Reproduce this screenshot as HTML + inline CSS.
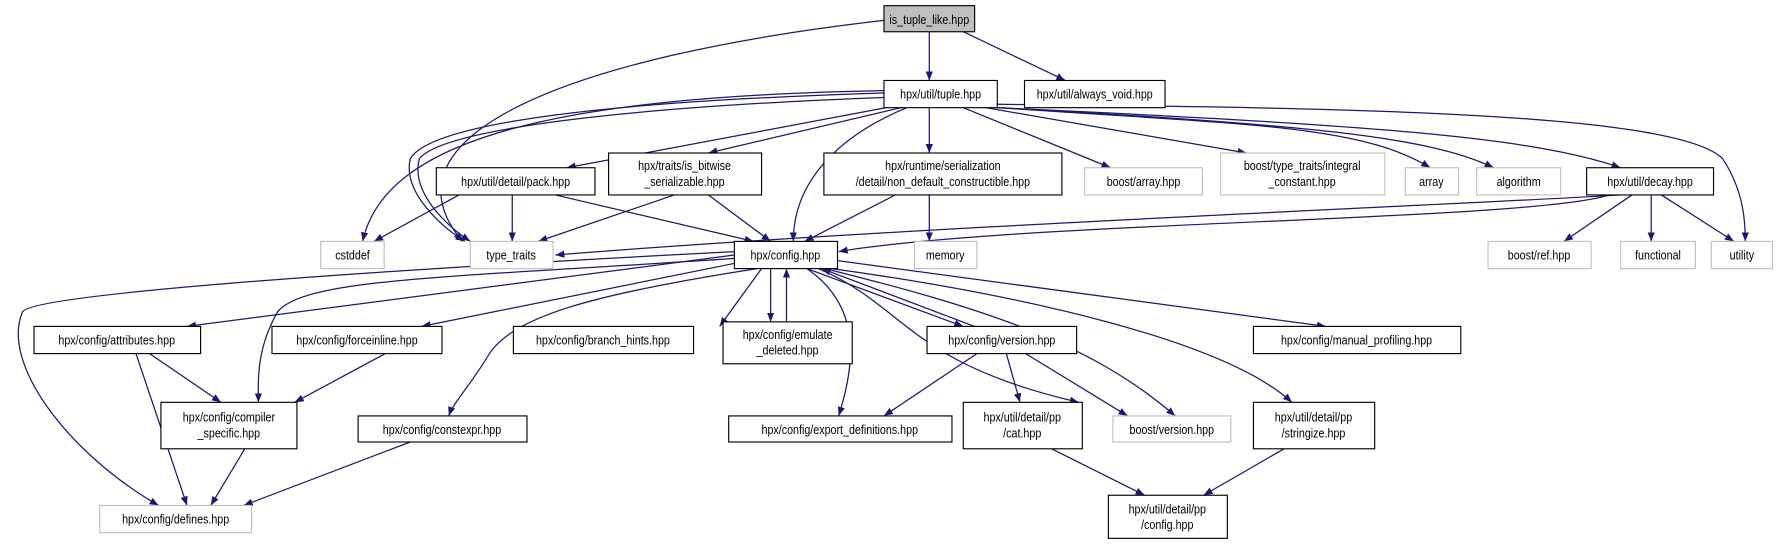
<!DOCTYPE html>
<html><head><meta charset="utf-8"><style>
html,body{margin:0;padding:0;background:#fff;}
svg{display:block}
text{font-family:"Liberation Sans",sans-serif;font-size:11px;fill:#000;transform-box:fill-box;transform-origin:center;transform:scaleX(0.86)}
</style></head><body>
<svg width="1777" height="544" viewBox="0 0 1568 480" xmlns="http://www.w3.org/2000/svg">
<defs><marker id="a" viewBox="0 0 10 10" refX="10" refY="5" markerWidth="8" markerHeight="8" markerUnits="userSpaceOnUse" orient="auto"><path d="M0,1 L10,5 L0,9 z" fill="#191970"/></marker></defs>
<g fill="none" stroke="#191970" stroke-width="1.1" marker-end="url(#a)">
<path d="M820,28 L820,71"/>
<path d="M850,28 L940,71"/>
<path d="M780,18 C500,50 330,120 408,213"/>
<path d="M780,80 C500,85 340,120 320,213"/>
<path d="M780,82 C520,90 380,110 362,140 C355,170 390,200 410,213"/>
<path d="M780,86 C540,95 390,115 370,140 C362,170 395,200 415,213"/>
<path d="M782,95 L500,148"/>
<path d="M795,95 L625,135"/>
<path d="M820,95 L820,135"/>
<path d="M800,95 C740,120 700,160 700,213"/>
<path d="M850,95 L980,148"/>
<path d="M870,95 L1100,135"/>
<path d="M880,95 C1100,110 1200,110 1262,148"/>
<path d="M880,95 C1150,110 1260,120 1318,148"/>
<path d="M880,95 C1200,110 1350,120 1430,148"/>
<path d="M880,92 C1200,95 1480,100 1520,140 C1540,170 1540,200 1540,213"/>
<path d="M405,172 L330,213"/>
<path d="M452,172 L452,213"/>
<path d="M490,172 L665,213"/>
<path d="M595,172 L475,213"/>
<path d="M625,172 L680,213"/>
<path d="M790,172 L710,213"/>
<path d="M820,172 L820,213"/>
<path d="M1430,172 C1300,180 800,200 490,225"/>
<path d="M1420,172 C1350,195 900,195 740,222"/>
<path d="M1440,172 L1380,213"/>
<path d="M1457,172 L1457,213"/>
<path d="M1466,172 L1530,213"/>
<path d="M648,225 L165,288"/>
<path d="M648,228 C400,245 270,245 245,275 C225,310 228,340 228,355"/>
<path d="M648,222 C300,240 30,260 20,275 C0,320 60,400 140,446"/>
<path d="M655,231 L372,288"/>
<path d="M668,237 C520,260 450,280 430,315 C415,340 400,355 396,367"/>
<path d="M672,237 L635,288"/>
<path d="M680,237 L680,284"/>
<path d="M694,284 L694,237"/>
<path d="M712,237 L850,288"/>
<path d="M860,288 L725,237"/>
<path d="M712,237 C760,270 755,320 740,367"/>
<path d="M722,237 C800,270 800,320 952,355"/>
<path d="M728,237 C860,270 960,300 1037,367"/>
<path d="M734,237 C900,260 1080,300 1140,355"/>
<path d="M739,230 L1170,288"/>
<path d="M132,312 L195,355"/>
<path d="M120,312 L165,446"/>
<path d="M340,312 L260,355"/>
<path d="M216,396 L186,446"/>
<path d="M362,390 L215,446"/>
<path d="M862,312 L780,367"/>
<path d="M888,312 L900,355"/>
<path d="M905,312 L995,367"/>
<path d="M928,396 L1010,437"/>
<path d="M1133,396 L1062,437"/>
</g>
<g stroke-width="1">
<rect x="780" y="5" width="80" height="23" fill="#bfbfbf" stroke="#000"/>
<rect x="780" y="71" width="100" height="24" fill="#fff" stroke="#000"/>
<rect x="904" y="71" width="124" height="24" fill="#fff" stroke="#000"/>
<rect x="385" y="148" width="140" height="24" fill="#fff" stroke="#000"/>
<rect x="537" y="135" width="135" height="37" fill="#fff" stroke="#000"/>
<rect x="727" y="135" width="210" height="37" fill="#fff" stroke="#000"/>
<rect x="957" y="148" width="104" height="24" fill="#fff" stroke="#bfbfbf"/>
<rect x="1077" y="135" width="145" height="37" fill="#fff" stroke="#bfbfbf"/>
<rect x="1240" y="148" width="47" height="24" fill="#fff" stroke="#bfbfbf"/>
<rect x="1303" y="148" width="74" height="24" fill="#fff" stroke="#bfbfbf"/>
<rect x="1400" y="148" width="112" height="24" fill="#fff" stroke="#000"/>
<rect x="283" y="213" width="56" height="24" fill="#fff" stroke="#bfbfbf"/>
<rect x="415" y="213" width="73" height="24" fill="#fff" stroke="#bfbfbf"/>
<rect x="648" y="213" width="91" height="24" fill="#fff" stroke="#000"/>
<rect x="807" y="213" width="55" height="24" fill="#fff" stroke="#bfbfbf"/>
<rect x="1313" y="213" width="91" height="24" fill="#fff" stroke="#bfbfbf"/>
<rect x="1430" y="213" width="66" height="24" fill="#fff" stroke="#bfbfbf"/>
<rect x="1510" y="213" width="54" height="24" fill="#fff" stroke="#bfbfbf"/>
<rect x="30" y="288" width="147" height="24" fill="#fff" stroke="#000"/>
<rect x="240" y="288" width="150" height="24" fill="#fff" stroke="#000"/>
<rect x="453" y="288" width="159" height="24" fill="#fff" stroke="#000"/>
<rect x="638" y="284" width="114" height="37" fill="#fff" stroke="#000"/>
<rect x="818" y="288" width="132" height="24" fill="#fff" stroke="#000"/>
<rect x="1106" y="288" width="183" height="24" fill="#fff" stroke="#000"/>
<rect x="142" y="355" width="120" height="41" fill="#fff" stroke="#000"/>
<rect x="316" y="367" width="149" height="23" fill="#fff" stroke="#000"/>
<rect x="643" y="367" width="197" height="23" fill="#fff" stroke="#000"/>
<rect x="850" y="355" width="105" height="41" fill="#fff" stroke="#000"/>
<rect x="982" y="367" width="104" height="23" fill="#fff" stroke="#bfbfbf"/>
<rect x="1106" y="355" width="107" height="41" fill="#fff" stroke="#000"/>
<rect x="88" y="446" width="134" height="24" fill="#fff" stroke="#bfbfbf"/>
<rect x="978" y="437" width="105" height="38" fill="#fff" stroke="#000"/>
</g>
<g text-anchor="middle">
<text x="820" y="21">is_tuple_like.hpp</text>
<text x="830" y="87">hpx/util/tuple.hpp</text>
<text x="966" y="87">hpx/util/always_void.hpp</text>
<text x="455" y="164">hpx/util/detail/pack.hpp</text>
<text x="604" y="150">hpx/traits/is_bitwise</text><text x="604" y="164">_serializable.hpp</text>
<text x="832" y="150">hpx/runtime/serialization</text><text x="832" y="164">/detail/non_default_constructible.hpp</text>
<text x="1009" y="164" >boost/array.hpp</text>
<text x="1149" y="150">boost/type_traits/integral</text><text x="1149" y="164">_constant.hpp</text>
<text x="1263" y="164">array</text>
<text x="1340" y="164">algorithm</text>
<text x="1456" y="164">hpx/util/decay.hpp</text>
<text x="311" y="229">cstddef</text>
<text x="451" y="229">type_traits</text>
<text x="693" y="229">hpx/config.hpp</text>
<text x="834" y="229">memory</text>
<text x="1358" y="229">boost/ref.hpp</text>
<text x="1463" y="229">functional</text>
<text x="1537" y="229">utility</text>
<text x="103" y="304">hpx/config/attributes.hpp</text>
<text x="315" y="304">hpx/config/forceinline.hpp</text>
<text x="532" y="304">hpx/config/branch_hints.hpp</text>
<text x="695" y="299">hpx/config/emulate</text><text x="695" y="313">_deleted.hpp</text>
<text x="884" y="304">hpx/config/version.hpp</text>
<text x="1197" y="304">hpx/config/manual_profiling.hpp</text>
<text x="202" y="372">hpx/config/compiler</text><text x="202" y="386">_specific.hpp</text>
<text x="390" y="383">hpx/config/constexpr.hpp</text>
<text x="741" y="383">hpx/config/export_definitions.hpp</text>
<text x="902" y="372">hpx/util/detail/pp</text><text x="902" y="386">/cat.hpp</text>
<text x="1034" y="383">boost/version.hpp</text>
<text x="1159" y="372">hpx/util/detail/pp</text><text x="1159" y="386">/stringize.hpp</text>
<text x="155" y="462">hpx/config/defines.hpp</text>
<text x="1030" y="453">hpx/util/detail/pp</text><text x="1030" y="467">/config.hpp</text>
</g>
</svg>
</body></html>
